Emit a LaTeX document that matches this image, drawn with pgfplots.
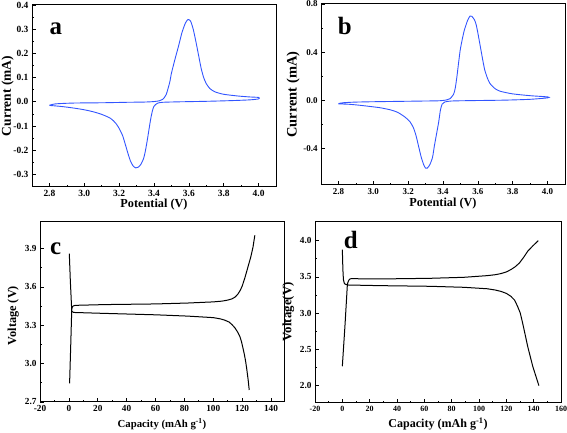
\documentclass[border=0pt]{standalone}
\usepackage{fontspec}
\setmainfont{Liberation Serif}
\usepackage{pgfplots}
\pgfplotsset{compat=1.18}
\definecolor{cvblue}{RGB}{50,85,255}
\newcommand\fs[1]{\bfseries\fontsize{#1}{#1}\selectfont}
\tikzset{
  onedec/.style={/pgf/number format/fixed, /pgf/number format/fixed zerofill, /pgf/number format/precision=1},
  panlab/.style={font=\fs{25}, inner sep=0pt},
}
\pgfplotsset{
  panel/.style={
    scale only axis, anchor=south west,
    tick align=inside, tick pos=left,
    minor tick num=1,
    major tick length=3.5bp, minor tick length=2bp,
    every tick/.append style={black, line width=0.7bp},
    axis line style={line width=1bp},
    ticklabel style={font=\fs{9}},
    /pgf/number format/assume math mode=true,
    label style={font=\fs{12.5}},
  },
}
\begin{document}
\begin{tikzpicture}[x=1bp,y=1bp]
\path[use as bounding box] (0,0) rectangle (567,433);

% ---------------- panel a
\begin{axis}[panel, at={(32bp,246bp)}, width=244bp, height=182bp,
  xmin=2.7, xmax=4.1, ymin=-0.352, ymax=0.4,
  xtick={2.8,3.0,3.2,3.4,3.6,3.8,4.0},
  ytick={-0.3,-0.2,-0.1,0,0.1,0.2,0.3,0.4},
  ticklabel style={font=\fs{9.5}},
  xticklabel style={onedec}, yticklabel style={onedec},
  xlabel={Potential (V)}, ylabel={Current (mA)},
  xlabel style={font=\fs{12.3}, at={(axis description cs:0.5,-0.099)}, anchor=center},
  ylabel style={font=\fs{13.5}, at={(axis description cs:-0.100,0.5)}, anchor=center},
]
\addplot[cvblue, line width=0.9bp, smooth, tension=0.4] coordinates {
(2.80,-0.014) (2.83,-0.009) (2.87,-0.007) (2.95,-0.005) (3.10,-0.004) (3.25,-0.002)
(3.35,-0.001) (3.40,0.001) (3.43,0.004) (3.45,0.010) (3.47,0.030) (3.49,0.080)
(3.50,0.118) (3.52,0.175) (3.54,0.228) (3.56,0.285) (3.58,0.325) (3.595,0.340)
(3.61,0.333) (3.625,0.300) (3.64,0.250) (3.655,0.195) (3.67,0.140) (3.685,0.100)
(3.70,0.075) (3.72,0.055) (3.75,0.041) (3.80,0.031) (3.88,0.024) (3.95,0.020) (4.00,0.018)
(4.00,0.012) (3.95,0.008) (3.85,0.005) (3.70,0.002) (3.55,0.000) (3.45,-0.002)
(3.42,-0.006) (3.40,-0.018) (3.39,-0.040) (3.38,-0.075) (3.37,-0.120) (3.36,-0.165)
(3.35,-0.205) (3.34,-0.235) (3.325,-0.258) (3.31,-0.270) (3.295,-0.273) (3.28,-0.265)
(3.265,-0.245) (3.25,-0.212) (3.235,-0.175) (3.22,-0.140) (3.20,-0.110) (3.18,-0.088)
(3.15,-0.068) (3.10,-0.052) (3.05,-0.041) (3.00,-0.033) (2.95,-0.027) (2.90,-0.022)
(2.85,-0.018) (2.80,-0.015)
};
\node[panlab] at (rel axis cs:0.098,0.868) {a};
\end{axis}

% ---------------- panel b
\begin{axis}[panel, at={(321bp,248bp)}, width=244bp, height=181bp,
  xmin=2.7, xmax=4.1, ymin=-0.7, ymax=0.8,
  xtick={2.8,3.0,3.2,3.4,3.6,3.8,4.0},
  ytick={-0.4,0,0.4,0.8},
  xticklabel style={onedec}, yticklabel style={onedec},
  xlabel={Potential (V)}, ylabel={Current (mA)},
  xlabel style={font=\fs{12.3}, at={(axis description cs:0.5,-0.105)}, anchor=center},
  ylabel style={font=\fs{14.5}, at={(axis description cs:-0.114,0.5)}, anchor=center},
]
\addplot[cvblue, line width=0.9bp, smooth, tension=0.4] coordinates {
(2.80,-0.025) (2.83,-0.018) (2.90,-0.013) (3.00,-0.010) (3.10,-0.008) (3.25,-0.005)
(3.38,-0.002) (3.42,0.005) (3.44,0.015) (3.46,0.050) (3.47,0.100) (3.48,0.200)
(3.49,0.320) (3.50,0.430) (3.52,0.570) (3.54,0.660) (3.555,0.700) (3.565,0.698)
(3.58,0.670) (3.59,0.630) (3.60,0.560) (3.61,0.480) (3.62,0.400) (3.63,0.320)
(3.64,0.250) (3.655,0.185) (3.67,0.140) (3.70,0.097) (3.73,0.076) (3.80,0.055)
(3.90,0.040) (4.00,0.030)
(4.00,0.022) (3.90,0.010) (3.75,0.003) (3.55,-0.001) (3.45,-0.004) (3.41,-0.012)
(3.395,-0.030) (3.385,-0.080) (3.375,-0.180) (3.36,-0.300) (3.35,-0.380) (3.34,-0.470)
(3.325,-0.530) (3.31,-0.560) (3.30,-0.560) (3.29,-0.535) (3.275,-0.470) (3.26,-0.380)
(3.245,-0.290) (3.23,-0.225) (3.21,-0.175) (3.18,-0.135) (3.14,-0.098) (3.10,-0.078)
(3.04,-0.060) (2.98,-0.049) (2.92,-0.039) (2.86,-0.031) (2.80,-0.028)
};
\node[panlab] at (rel axis cs:0.097,0.881) {b};
\end{axis}

% ---------------- panel c
\begin{axis}[panel, at={(40bp,31bp)}, width=244bp, height=180bp,
  xmin=-20, xmax=149, ymin=2.7, ymax=4.108,
  xtick={-20,0,20,40,60,80,100,120,140},
  ytick={2.7,3.0,3.3,3.6,3.9},
  ticklabel style={font=\fs{9.3}},
  yticklabel style={onedec},
  xlabel={Capacity (mAh g\textsuperscript{-1})}, ylabel={Voltage (V)},
  xlabel style={font=\fs{10.8}, at={(axis description cs:0.5,-0.124)}, anchor=center},
  ylabel style={font=\fs{12.3}, at={(axis description cs:-0.110,0.48)}, anchor=center},
]
\addplot[black, line width=1bp] coordinates {
(0.5,2.846) (1.3,3.15) (2.0,3.43) (2.5,3.446) (3.2,3.452) (4.4,3.456) (25,3.462)
(60,3.467) (82,3.474) (100,3.483) (106,3.489) (110,3.497) (113,3.507) (115,3.520)
(117,3.543) (118.5,3.570) (120,3.605) (122,3.675) (124,3.755) (126,3.835) (127.5,3.91) (128.8,4.004)
};
\addplot[black, line width=1bp] coordinates {
(0.3,3.861) (1.0,3.65) (2.0,3.41) (3.0,3.402) (4.4,3.400) (25,3.393) (60,3.382)
(82,3.372) (100,3.360) (105,3.350) (108,3.340) (111,3.325) (113,3.305) (115,3.280)
(117,3.245) (118.5,3.210) (119.6,3.170) (120.6,3.120) (121.4,3.080) (122.4,3.020)
(123.3,2.950) (124.2,2.870) (124.9,2.794)
};
\node[panlab] at (rel axis cs:0.064,0.85) {c};
\end{axis}

% ---------------- panel d
\begin{axis}[panel, at={(315bp,30bp)}, width=246bp, height=181bp,
  xmin=-20, xmax=160, ymin=1.76, ymax=4.257,
  xtick={-20,0,20,40,60,80,100,120,140,160},
  ytick={2.0,2.5,3.0,3.5,4.0},
  xticklabel style={font=\fs{8}}, yticklabel style={onedec, font=\fs{9.3}},
  xlabel={Capacity (mAh g\textsuperscript{-1})}, ylabel={Voltage(V)},
  xlabel style={font=\fs{12.1}, at={(axis description cs:0.5,-0.116)}, anchor=center},
  ylabel style={font=\fs{12.9}, at={(axis description cs:-0.108,0.504)}, anchor=center},
]
\addplot[black, line width=1bp] coordinates {
(0,2.267) (2,2.85) (3.7,3.40) (4.5,3.445) (5.3,3.468) (6.4,3.475) (27,3.471)
(64,3.480) (89,3.494) (106,3.517) (112,3.530) (116,3.545) (120,3.568) (123.3,3.600)
(126.5,3.640) (129.5,3.690) (132.5,3.765) (135.6,3.853) (139.5,3.930) (143.4,4.000)
};
\addplot[black, line width=1bp] coordinates {
(0,3.876) (0.4,3.60) (0.8,3.46) (1.4,3.415) (2.0,3.400) (3.9,3.388) (27,3.379)
(64,3.370) (89,3.356) (106,3.336) (112,3.318) (116,3.300) (120,3.272) (123.3,3.232)
(126,3.180) (128.2,3.094) (130.2,3.000) (131.9,2.864) (133.8,2.700) (135.6,2.542)
(139.3,2.267) (143.8,2.000)
};
\node[panlab] at (rel axis cs:0.146,0.898) {d};
\end{axis}
\end{tikzpicture}
\end{document}
